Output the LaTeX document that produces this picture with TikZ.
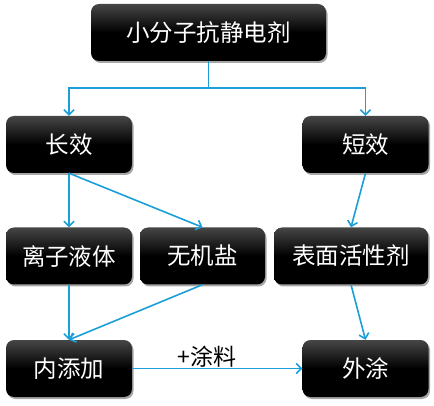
\documentclass[tikz,border=0pt]{standalone}
\usepackage{fontspec}
\setmainfont{Noto Sans CJK SC}
\usetikzlibrary{arrows.meta,shadows}
\definecolor{linkblue}{RGB}{26,159,217}
\begin{document}
\begin{tikzpicture}[x=1pt,y=-1pt,
  box/.style={rounded corners=8pt, top color={rgb,255:red,70;green,70;blue,70}, bottom color=black, middle color=black,
    drop shadow={shadow xshift=1.5pt,shadow yshift=-2pt,fill=black,opacity=0.35},
    text=white, font=\fontsize{23.5}{26}\selectfont, inner sep=0pt, minimum height=57pt},
  link/.style={draw=linkblue, line width=1.6pt, -{Straight Barb[length=5pt,width=10pt,line width=1.6pt]}},
  plain/.style={draw=linkblue, line width=1.6pt}]
\useasboundingbox (0,0) rectangle (434,406);
\node[box, minimum width=235pt] (top) at (208.5,32.5) {小分子抗静电剂};
\node[box, minimum width=126pt] (cx) at (69,144.5) {长效};
\node[box, minimum width=126pt] (dx) at (365.5,144.5) {短效};
\node[box, minimum width=126pt] (lz) at (69,256) {离子液体};
\node[box, minimum width=125pt] (wj) at (202.5,256) {无机盐};
\node[box, minimum width=154pt] (bm) at (351,256) {表面活性剂};
\node[box, minimum width=126pt] (nt) at (69,368.5) {内添加};
\node[box, minimum width=126pt] (wt) at (365.5,368.5) {外涂};
\coordinate (j) at (208.5,88);
\draw[plain] (top.south) -- (j);
\draw[link] (j) -| (cx.north);
\draw[link] (j) -| (dx.north);
\draw[link] (cx.south) -- (lz.north);
\draw[link] (cx.south) -- (wj.north);
\draw[link] (dx.south) -- (bm.north);
\draw[link] (lz.south) -- (nt.north);
\draw[link] (wj.south) -- (nt.north);
\draw[link] (bm.south) -- (wt.north);
\draw[link] (nt.east) -- node[above, font=\fontsize{23}{25}\selectfont, text=black, inner sep=0pt, xshift=-10.5pt] {+涂料} (wt.west);
\end{tikzpicture}
\end{document}
